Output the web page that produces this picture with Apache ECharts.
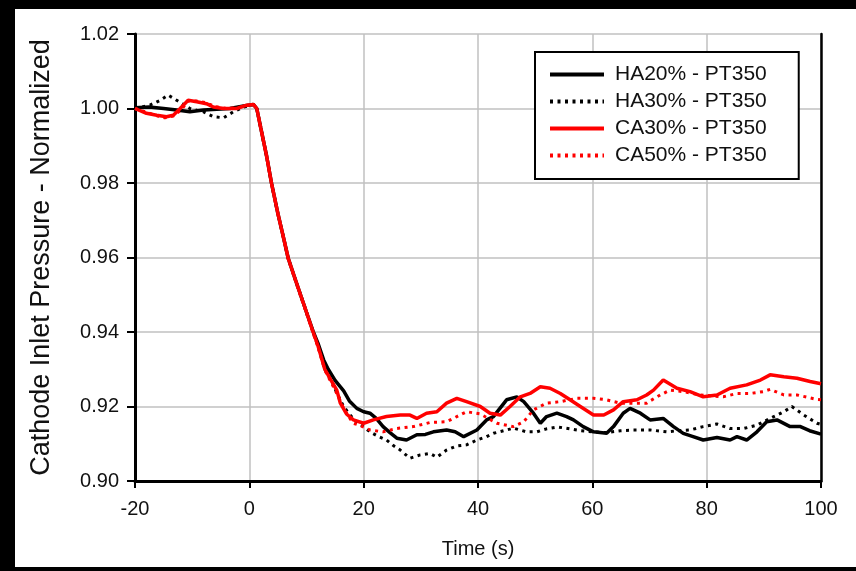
<!DOCTYPE html>
<html><head><meta charset="utf-8">
<script src="https://cdn.jsdelivr.net/npm/echarts@6/dist/echarts.min.js"></script>
<style>html,body{margin:0;padding:0;background:#fff}#c{width:856px;height:571px}</style>
</head><body><div id="c"></div>
<script>
const xTicks = [-20, 0, 20, 40, 60, 80, 100];
const yTicks = [0.90, 0.92, 0.94, 0.96, 0.98, 1.00, 1.02];
const seriesNames = ['HA20% - PT350', 'HA30% - PT350', 'CA30% - PT350', 'CA50% - PT350'];

const ha20 = [[-20,1.0002],[-17.5,1.0004],[-15,1.0000],[-12.7,0.9996],[-10.4,0.9991],[-8,0.9996],[-5.7,0.9998],[-3.4,1.0000],[-1,1.0007],[0.7,1.0011],[1.3,1.0000],[2,0.9948],[3,0.9874],[3.9,0.9798],[5,0.9718],[6,0.9652],[6.8,0.9598],[8,0.9543],[9,0.9498],[10,0.9453],[11.2,0.9400],[12,0.9370],[13,0.9325],[13.8,0.9300],[15,0.9270],[16.5,0.9242],[17.5,0.9215],[18.8,0.9195],[20,0.9186],[21.1,0.9182],[22.2,0.9168],[23.4,0.9146],[24.6,0.9130],[25.8,0.9115],[27.5,0.9110],[29.3,0.9124],[30.8,0.9125],[32.2,0.9132],[34.5,0.9137],[36,0.9132],[37.5,0.9119],[39.8,0.9137],[41.5,0.9164],[42.7,0.9173],[45,0.9218],[46.8,0.9226],[48,0.9213],[49.7,0.9182],[50.9,0.9155],[52,0.9173],[53.8,0.9182],[55.5,0.9173],[56.7,0.9164],[58.4,0.9146],[60.2,0.9132],[62.5,0.9128],[63.7,0.9146],[65.4,0.9182],[66.6,0.9195],[68.4,0.9182],[70.1,0.9164],[72.4,0.9168],[74.2,0.9146],[75.9,0.9128],[77.5,0.9120],[79.4,0.9110],[81.8,0.9117],[84.1,0.9110],[85.3,0.9119],[87,0.9110],[88.8,0.9132],[90.5,0.9159],[92.3,0.9164],[94.6,0.9146],[96.4,0.9146],[98,0.9135],[100,0.9126]];

const ha30 = [[-20,1.0000],[-17.4,1.0009],[-15.6,1.0022],[-14.2,1.0036],[-12.7,1.0022],[-10.4,1.0000],[-8,0.9991],[-6.3,0.9978],[-4.5,0.9975],[-2.8,0.9991],[-1,1.0004],[0.7,1.0011],[1.3,1.0000],[2,0.9948],[3,0.9874],[3.9,0.9798],[5,0.9718],[6,0.9652],[6.8,0.9598],[8,0.9543],[9,0.9498],[10,0.9453],[11.2,0.9398],[12,0.9363],[13.2,0.9300],[14.5,0.9265],[15.5,0.9230],[16.5,0.9200],[17.5,0.9180],[18.5,0.9162],[20,0.9145],[21.1,0.9132],[22.5,0.9120],[24,0.9110],[25.2,0.9095],[26.4,0.9083],[28.1,0.9061],[29.9,0.9070],[31.6,0.9074],[32.8,0.9064],[34.5,0.9083],[36.3,0.9094],[38,0.9097],[39.8,0.9110],[41.5,0.9119],[42.7,0.9128],[45,0.9137],[46.2,0.9142],[48.5,0.9132],[50.3,0.9132],[52,0.9140],[54,0.9145],[56,0.9140],[58,0.9135],[60.2,0.9132],[62.5,0.9130],[64.9,0.9135],[67.2,0.9137],[70.1,0.9137],[73,0.9132],[75,0.9135],[77.1,0.9137],[79.4,0.9146],[81.8,0.9153],[84.1,0.9141],[86.5,0.9141],[88.8,0.9150],[91.1,0.9168],[93.5,0.9186],[94.9,0.9200],[97,0.9177],[99.3,0.9155],[100,0.9152]];

const ca30 = [[-20,1.0000],[-18,0.9987],[-16.2,0.9982],[-14.5,0.9978],[-13.3,0.9982],[-12.1,1.0000],[-10.7,1.0022],[-9.2,1.0018],[-7.5,1.0013],[-6.3,1.0004],[-4.5,1.0000],[-2.2,1.0000],[-0.45,1.0009],[0.7,1.0011],[1.3,1.0000],[2,0.9948],[3,0.9874],[3.9,0.9798],[5,0.9718],[6,0.9652],[6.8,0.9598],[8,0.9543],[9,0.9498],[10,0.9453],[11.2,0.9398],[12,0.9363],[13.2,0.9300],[14.3,0.9270],[15.3,0.9244],[15.9,0.9210],[17,0.9180],[18.2,0.9164],[20,0.9155],[21.7,0.9164],[24,0.9173],[26.4,0.9177],[28.1,0.9177],[29.3,0.9168],[31,0.9182],[32.8,0.9186],[34.5,0.9209],[36.3,0.9222],[38,0.9213],[40.4,0.9200],[42.1,0.9182],[43.9,0.9177],[45.6,0.9200],[47.4,0.9226],[49.1,0.9235],[50.9,0.9253],[52.6,0.9249],[54.4,0.9235],[56.1,0.9218],[57.9,0.9200],[60.2,0.9177],[62,0.9177],[63.7,0.9191],[65.4,0.9213],[67.8,0.9218],[69.5,0.9231],[70.7,0.9244],[72.4,0.9271],[74.8,0.9249],[77.1,0.9240],[79.4,0.9226],[81.8,0.9231],[84.1,0.9249],[87,0.9258],[89.4,0.9271],[91.1,0.9285],[93.5,0.9280],[95.8,0.9276],[98.1,0.9267],[100,0.9261]];

const ca50 = [[-20,1.0000],[-18,0.9990],[-16,0.9980],[-14.8,0.9975],[-13.3,0.9980],[-12,0.9995],[-10.7,1.0020],[-9,1.0020],[-7.5,1.0015],[-6,1.0005],[-4,1.0000],[-2,1.0002],[-0.5,1.0008],[0.7,1.0011],[1.3,1.0000],[2,0.9946],[3,0.9872],[3.9,0.9796],[5,0.9716],[6,0.9650],[6.8,0.9596],[8,0.9540],[9,0.9495],[10,0.9450],[11.2,0.9395],[12,0.9360],[13.2,0.9298],[14.3,0.9265],[15.3,0.9235],[16.5,0.9195],[17.5,0.9170],[18.2,0.9155],[19.5,0.9148],[21.1,0.9137],[23.4,0.9132],[25.8,0.9141],[28.7,0.9146],[31.6,0.9157],[34.5,0.9159],[36.3,0.9173],[38,0.9186],[40.4,0.9180],[43.3,0.9155],[46.2,0.9146],[48,0.9159],[49.7,0.9191],[52,0.9209],[54.4,0.9213],[57.3,0.9222],[60.2,0.9222],[62.5,0.9218],[64.9,0.9209],[67.2,0.9209],[69.5,0.9209],[70.1,0.9215],[71.9,0.9231],[73.6,0.9244],[75.9,0.9240],[78.8,0.9231],[82.9,0.9226],[85.3,0.9235],[87.6,0.9235],[89.9,0.9240],[91.1,0.9246],[93.5,0.9231],[95.8,0.9231],[99.3,0.9219],[100,0.9218]];

const FONT = 'Liberation Sans';
const chart = echarts.init(document.getElementById('c'), null, {renderer: 'canvas'});
const dotted = [3, 4.5];
chart.setOption({
  animation: false,
  backgroundColor: '#fff',
  textStyle: {fontFamily: FONT},
  grid: {left: 135, right: 35, top: 34, bottom: 90, containLabel: false},
  xAxis: {
    type: 'value', min: xTicks[0], max: xTicks[xTicks.length - 1], interval: 20,
    name: 'Time (s)', nameLocation: 'middle', nameGap: 58,
    nameTextStyle: {fontFamily: FONT, fontSize: 20, color: '#111'},
    axisLine: {show: true, onZero: false, lineStyle: {color: '#000', width: 3}},
    axisTick: {show: true, length: 7, inside: false, lineStyle: {color: '#000', width: 2}},
    axisLabel: {fontFamily: FONT, fontSize: 20, color: '#111', margin: 18},
    splitLine: {show: true, lineStyle: {color: '#c0c0c0', width: 1.5}}
  },
  yAxis: [{
    type: 'value', min: yTicks[0], max: yTicks[yTicks.length - 1], interval: 0.02,
    name: 'Cathode Inlet Pressure - Normalized', nameLocation: 'middle', nameGap: 80,
    nameTextStyle: {fontFamily: FONT, fontSize: 27, color: '#111'},
    axisLine: {show: true, onZero: false, lineStyle: {color: '#000', width: 3}},
    axisTick: {show: true, length: 8, lineStyle: {color: '#000', width: 2}},
    axisLabel: {fontFamily: FONT, fontSize: 20, color: '#111', margin: 16, formatter: v => v.toFixed(2)},
    splitLine: {show: true, lineStyle: {color: '#c0c0c0', width: 1.5}}
  }, {
    type: 'value', position: 'right', min: yTicks[0], max: yTicks[yTicks.length - 1], interval: 0.02,
    axisLine: {show: true, onZero: false, lineStyle: {color: '#000', width: 2.5}},
    axisTick: {show: false}, axisLabel: {show: false}, splitLine: {show: false}
  }],
  legend: {
    orient: 'vertical', left: 535, top: 52,
    data: seriesNames,
    backgroundColor: '#fff', borderColor: '#000', borderWidth: 2,
    padding: [12, 32, 13, 13], itemGap: 6, itemWidth: 54, itemHeight: 14,
    itemStyle: {opacity: 0},
    lineStyle: {width: 4},
    textStyle: {fontFamily: FONT, fontSize: 21, color: '#111', padding: [0, 0, 0, 6]}
  },
  series: [
    {name: seriesNames[1], type: 'line', data: ha30, symbol: 'none', smooth: false, z: 2,
     lineStyle: {color: '#000', width: 3, type: dotted}, itemStyle: {color: '#000'}},
    {name: seriesNames[0], type: 'line', data: ha20, symbol: 'none', smooth: false, z: 3,
     lineStyle: {color: '#000', width: 3.5}, itemStyle: {color: '#000'}},
    {name: seriesNames[3], type: 'line', data: ca50, symbol: 'none', smooth: false, z: 4,
     lineStyle: {color: '#ff0000', width: 3, type: dotted}, itemStyle: {color: '#ff0000'}},
    {name: seriesNames[2], type: 'line', data: ca30, symbol: 'none', smooth: false, z: 5,
     lineStyle: {color: '#ff0000', width: 3.5}, itemStyle: {color: '#ff0000'}}
  ],
  graphic: [
    {type: 'rect', left: 0, top: 0, shape: {width: 856, height: 9}, style: {fill: '#000'}, z: 100},
    {type: 'rect', left: 0, top: 0, shape: {width: 15, height: 571}, style: {fill: '#000'}, z: 100},
    {type: 'rect', left: 0, top: 567, shape: {width: 856, height: 4}, style: {fill: '#000'}, z: 100}
  ]
});
</script></body></html>
